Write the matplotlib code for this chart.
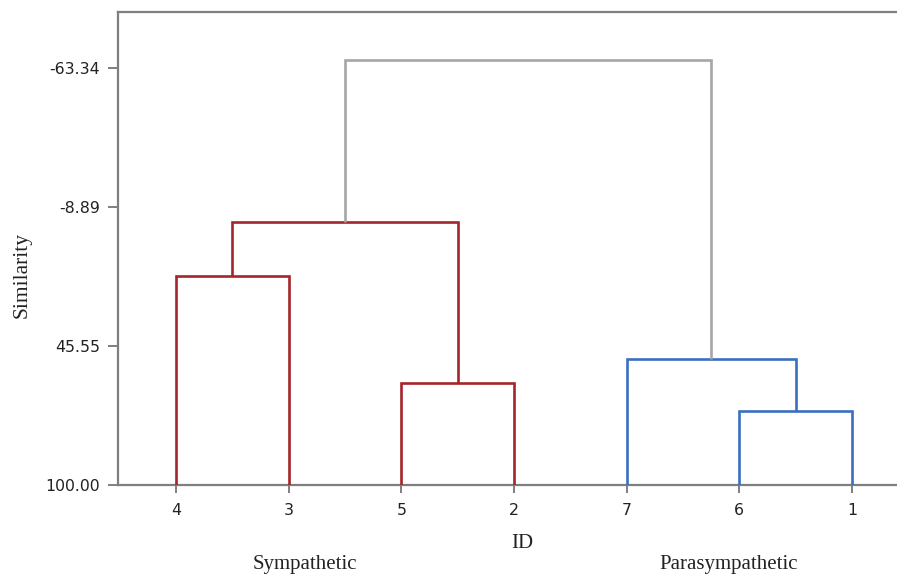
import matplotlib
matplotlib.use("Agg")
import matplotlib.pyplot as plt

# ---- data ----
leaf_labels = ["4", "3", "5", "2", "7", "6", "1"]
# merges: (left node, right node, similarity level); nodes 0..6 are leaves, 7+ are clusters
merge_left = [0, 2, 7, 5, 4, 9]
merge_right = [1, 3, 8, 6, 10, 11]
merge_level = [18.2, 60.1, -2.95, 70.9, 50.7, -66.4]
merge_color = ["#A3262C", "#A3262C", "#A3262C", "#3A6FBF", "#3A6FBF", "#A6A6A6"]
y_ticks = [100.00, 45.55, -8.89, -63.34]
y_tick_labels = ["100.00", "45.55", "-8.89", "-63.34"]
group_names = ["Sympathetic", "Parasympathetic"]

W, H = 897, 574
fig = plt.figure(figsize=(W / 100, H / 100), dpi=100)
ax = fig.add_axes([118 / W, (H - 485) / H, (W - 118) / W, (485 - 12) / H])

# node positions
xpos = {i: float(i + 1) for i in range(len(leaf_labels))}
ypos = {i: 100.0 for i in range(len(leaf_labels))}
for k, (a, b, lvl, col) in enumerate(zip(merge_left, merge_right, merge_level, merge_color)):
    node = len(leaf_labels) + k
    xa, xb = xpos[a], xpos[b]
    ax.plot([xa, xa, xb, xb], [ypos[a], lvl, lvl, ypos[b]], color=col, lw=1.9,
            solid_joinstyle="miter", solid_capstyle="butt", zorder=3)
    xpos[node] = (xa + xb) / 2
    ypos[node] = lvl

ax.set_xlim(1 - 58 / 112.67, 7 + 45 / 112.67)
top_val = -63.34 - (55.6 / 139.1) * 54.45
ax.set_ylim(100.0, top_val)

ax.set_xticks(range(1, len(leaf_labels) + 1))
ax.set_xticklabels(leaf_labels)
ax.set_yticks(y_ticks)
ax.set_yticklabels(y_tick_labels)

spine_col = "#7F7F7F"
for s in ["left", "bottom", "top"]:
    ax.spines[s].set_color(spine_col)
    ax.spines[s].set_linewidth(1.6)
ax.spines["right"].set_visible(False)
ax.tick_params(axis="both", colors=spine_col, width=1.4, labelcolor="#222222",
               labelsize=11.3)
ax.tick_params(axis="y", length=7, pad=6)
ax.tick_params(axis="x", length=6, pad=7)
for lab in ax.get_xticklabels() + ax.get_yticklabels():
    lab.set_family("DejaVu Sans")

serif = "Liberation Serif"
fig.text(22 / W, 1 - 275 / H, "Similarity", rotation=90, ha="center", va="center",
         family=serif, fontsize=15.5, color="#222222")
fig.text(522 / W, 1 - 543 / H, "ID", ha="center", va="center",
         family=serif, fontsize=15, color="#222222")
fig.text(305 / W, 1 - 564 / H, group_names[0], ha="center", va="center",
         family=serif, fontsize=15, color="#222222")
fig.text(729 / W, 1 - 564 / H, group_names[1], ha="center", va="center",
         family=serif, fontsize=15, color="#222222")

fig.savefig("out.png", dpi=100)
